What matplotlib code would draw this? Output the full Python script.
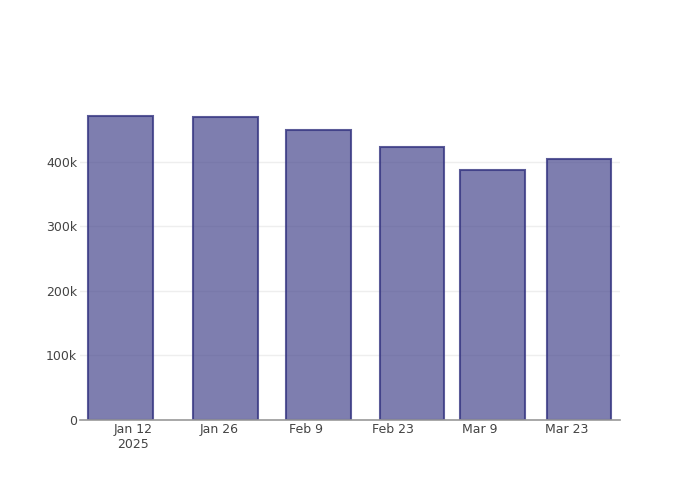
import matplotlib
matplotlib.use("Agg")
import matplotlib.pyplot as plt
import matplotlib.dates as mdates
import numpy as np
from datetime import datetime

# dados
dates = ["2025-01-10", "2025-01-27", "2025-02-11", "2025-02-26", "2025-03-11", "2025-03-25"]
values = [471500, 469000, 449500, 423500, 387500, 404500]
tick_dates = ["2025-01-12", "2025-01-26", "2025-02-09", "2025-02-23", "2025-03-09", "2025-03-23"]
tick_labels = ["Jan 12\n2025", "Jan 26", "Feb 9", "Feb 23", "Mar 9", "Mar 23"]
y_ticks = [0, 100000, 200000, 300000, 400000]
y_labels = ["0", "100k", "200k", "300k", "400k"]

x = [datetime.strptime(d, "%Y-%m-%d") for d in dates]
xt = [datetime.strptime(d, "%Y-%m-%d") for d in tick_dates]

fig = plt.figure(figsize=(7, 5), dpi=100)
ax = fig.add_axes([80 / 700, 80 / 500, 540 / 700, 320 / 500])

# largura = 0.8 * menor intervalo (como o plotly)
nums = mdates.date2num(x)
width = 0.8 * np.min(np.diff(nums))
ax.bar(x, values, width=width, color=(0.282, 0.282, 0.557, 0.7),
       edgecolor=(0.2, 0.2, 0.5, 0.8), linewidth=1.5, zorder=3)

ax.set_xlim(mdates.date2num(datetime(2025, 1, 3, 12)), mdates.date2num(datetime(2025, 3, 31, 14)))
ax.set_ylim(0, 496000)

ax.set_xticks(xt)
ax.set_xticklabels(tick_labels)
ax.set_yticks(y_ticks)
ax.set_yticklabels(y_labels)

ax.grid(axis="y", color="#eeeeee", linewidth=1, zorder=0)
for s in ["top", "right", "left"]:
    ax.spines[s].set_visible(False)
ax.spines["bottom"].set_color("#999999")
ax.spines["bottom"].set_linewidth(1.2)
ax.spines["bottom"].set_zorder(4)

ax.tick_params(axis="x", length=0, pad=2, labelsize=9, labelcolor="#444444")
ax.tick_params(axis="y", length=0, pad=2, labelsize=9, labelcolor="#444444")

fig.savefig("out.png", dpi=100)
